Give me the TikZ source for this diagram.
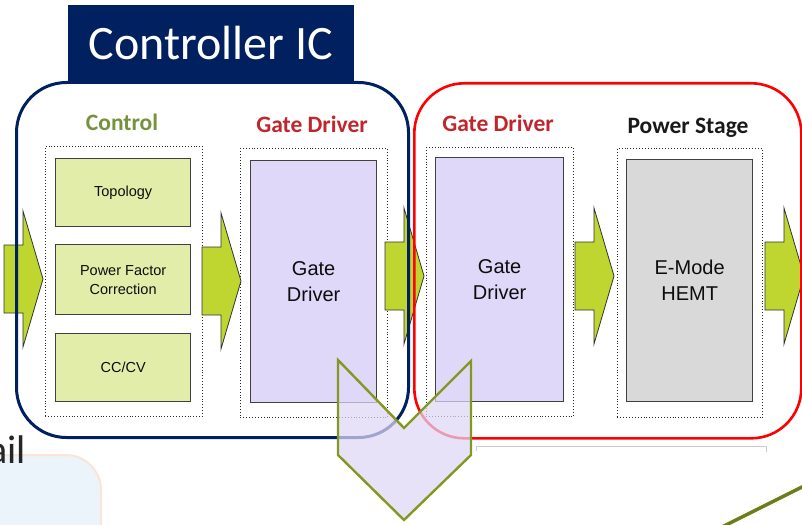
\documentclass[tikz,border=0pt]{standalone}
\usepackage{fontspec}
\setmainfont{Carlito}
\newfontfamily\arialf{Liberation Sans}
\definecolor{navy}{HTML}{002060}
\definecolor{olivetxt}{HTML}{76923C}
\definecolor{redtxt}{HTML}{C0262D}
\definecolor{garrow}{HTML}{BFD630}
\definecolor{ctlfill}{HTML}{E3EDAA}
\definecolor{lav}{HTML}{E0D8F8}
\definecolor{grayfill}{HTML}{D9D9D9}
\definecolor{chev}{HTML}{83981E}
\definecolor{lightblue}{HTML}{EBF3FB}
\definecolor{peach}{HTML}{FCE4D6}
\definecolor{oliveline}{HTML}{6F7D17}
\definecolor{textgray}{HTML}{262626}
\tikzset{
  zone/.style={draw=black!85, dotted, line width=0.9, anchor=north west, inner sep=0},
  ibox/.style={draw=black!75, line width=1.3, anchor=north west, inner sep=0, align=center,
     font=\arialf\fontsize{14.5}{19}\selectfont, text=black!95},
  bigbox/.style={draw=black!75, line width=1.3, anchor=north west, inner sep=0, align=center,
     font=\arialf\fontsize{20}{26}\selectfont, text=black!95},
  lbl/.style={anchor=base, font=\bfseries\fontsize{23.5}{28}\selectfont, inner sep=0},
  frame/.style={rounded corners=50, anchor=north west, inner sep=0},
  garrowpath/.style={fill=garrow, draw=black!80, line width=0.8},
  pics/greenarrow/.style={code={
    \draw[garrowpath] (0,-34) -- (19,-34) -- (19,-68) -- (39,0) -- (19,68) -- (19,34) -- (0,34) -- cycle;
  }},
}
\begin{document}
\begin{tikzpicture}[x=1pt,y=-1pt]
\useasboundingbox (0,0) rectangle (802,524);
\clip (0,0) rectangle (802,524);
\fill[white] (0,0) rectangle (802,524);

% bottom-left fragment
\draw[fill=lightblue, draw=peach, line width=2, rounded corners=35] (-30,455) rectangle (101,580);
\node (ail) [anchor=base east, inner sep=0, font=\fontsize{40}{40}\selectfont, text=textgray] at (26,463) {ail};

% zones
\node (zctl) [zone, minimum width=157, minimum height=270] at (45,146) {};
\node (zgd1) [zone, minimum width=147, minimum height=269] at (240,148) {};
\node (zgd2) [zone, minimum width=147, minimum height=269] at (426,147) {};
\node (zps)  [zone, minimum width=145, minimum height=269] at (617,148) {};

% inner boxes
\node (topo) [ibox, fill=ctlfill, minimum width=135, minimum height=68] at (55,158) {Topology};
\node (pfc)  [ibox, fill=ctlfill, minimum width=135, minimum height=70] at (55,244) {Power Factor\\Correction};
\node (cccv) [ibox, fill=ctlfill, minimum width=135, minimum height=68] at (55,333) {CC/CV};
\node (gd1)  [bigbox, fill=lav, minimum width=126, minimum height=242] at (250,160) {Gate\\Driver};
\node (gd2)  [bigbox, fill=lav, minimum width=128, minimum height=244] at (435,157) {Gate\\Driver};
\node (hemt) [bigbox, fill=grayfill, minimum width=126, minimum height=242] at (626,159) {E-Mode\\HEMT};

% labels
\node (lctl) [lbl, text=olivetxt] at (122,130) {Control};
\node (lgd1) [lbl, text=redtxt] at (312,132) {Gate Driver};
\node (lgd2) [lbl, text=redtxt] at (498,131) {Gate Driver};
\node (lps)  [lbl, text=black!90] at (688,133) {Power Stage};

% green arrows
\pic at (4,279) {greenarrow};
\pic at (202,281) {greenarrow};
\pic at (385,276) {greenarrow};
\pic at (575,276) {greenarrow};
\pic at (765,276) {greenarrow};

% frames
\node (ctrlic) [frame, draw=navy, line width=3, minimum width=392, minimum height=355] at (15,81) {};
\node (pwr) [frame, draw=red, line width=2.6, minimum width=387, minimum height=355] at (413,82) {};

% title
\node (title) [fill=navy, minimum width=286, minimum height=78, anchor=north west, inner sep=0] at (68,5) {};
\node (titletxt) [anchor=base, inner sep=0, text=white, font=\fontsize{48}{50}\selectfont] at (211,60) {Controller IC};

% light gray line
\coordinate (g1) at (476,451);
\coordinate (g2) at (476,446);
\coordinate (g3) at (766,446);
\coordinate (g4) at (766,452);
\draw[black!20, line width=1] (g1) -- (g2) -- (g3) -- (g4);

% olive line
\coordinate (o1) at (722,527);
\coordinate (o2) at (806,485);
\draw[oliveline, line width=3.5] (o1) -- (o2);

% chevron
\coordinate (c1) at (338,360);
\coordinate (c2) at (404,428);
\coordinate (c3) at (471,361);
\coordinate (c4) at (471,455);
\coordinate (c5) at (404,520);
\coordinate (c6) at (338,455);
\draw[draw=chev, line width=2.4, fill=lav, fill opacity=0.72, line join=miter] (c1) -- (c2) -- (c3) -- (c4) -- (c5) -- (c6) -- cycle;
\end{tikzpicture}
\end{document}
